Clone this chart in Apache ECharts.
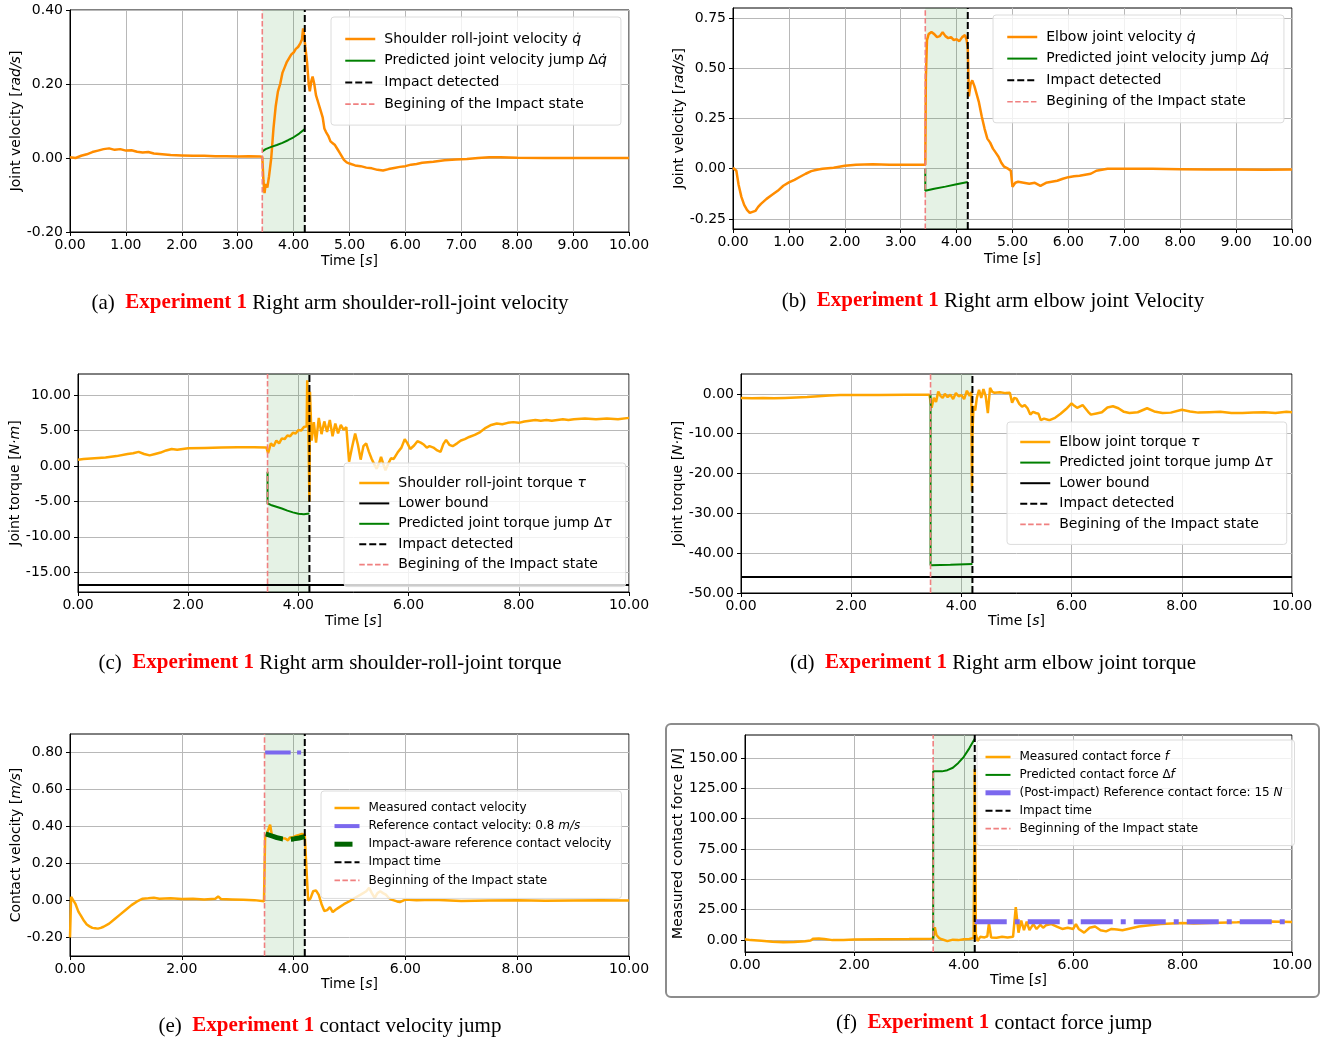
<!DOCTYPE html>
<html>
<head>
<meta charset="utf-8">
<title>Experiment 1 - impact results</title>
<script src="https://cdn.jsdelivr.net/npm/echarts@6/dist/echarts.min.js"></script>
<style>
html, body { margin: 0; padding: 0; background: #fff; }
#main { width: 1339px; height: 1044px; }
</style>
</head>
<body>
<div id="main"></div>
<script>
// ---- data: [time (s), value] ----

// (a) shoulder roll joint velocity
const shoulderVel = [[0,0.002],[0.1,0.0],[0.2,0.006],[0.3,0.01],[0.4,0.016],[0.5,0.02],[0.6,0.024],[0.7,0.026],[0.8,0.022],[0.9,0.024],[1.0,0.02],[1.1,0.021],[1.2,0.017],[1.3,0.015],[1.4,0.016],[1.5,0.012],[1.6,0.011],[1.8,0.008],[2.0,0.007],[2.2,0.006],[2.4,0.006],[2.6,0.005],[2.8,0.005],[3.0,0.004],[3.2,0.005],[3.4,0.004],[3.44,0.003],[3.46,-0.06],[3.48,-0.095],[3.5,-0.07],[3.53,-0.08],[3.56,-0.05],[3.6,0.0],[3.64,0.08],[3.68,0.14],[3.72,0.18],[3.76,0.2],[3.8,0.23],[3.84,0.245],[3.88,0.26],[3.92,0.27],[3.96,0.28],[4.0,0.285],[4.04,0.295],[4.08,0.3],[4.12,0.31],[4.15,0.32],[4.17,0.35],[4.19,0.33],[4.21,0.3],[4.24,0.26],[4.27,0.2],[4.29,0.18],[4.32,0.21],[4.34,0.22],[4.37,0.2],[4.4,0.17],[4.44,0.15],[4.48,0.13],[4.52,0.11],[4.55,0.08],[4.58,0.07],[4.62,0.06],[4.66,0.045],[4.7,0.04],[4.74,0.035],[4.78,0.025],[4.82,0.015],[4.86,0.005],[4.9,-0.005],[4.95,-0.012],[5.0,-0.015],[5.1,-0.02],[5.2,-0.022],[5.3,-0.026],[5.4,-0.028],[5.5,-0.032],[5.6,-0.034],[5.7,-0.03],[5.8,-0.027],[5.9,-0.024],[6.0,-0.022],[6.1,-0.018],[6.2,-0.016],[6.3,-0.013],[6.5,-0.01],[6.7,-0.006],[6.9,-0.004],[7.1,-0.003],[7.3,0.0],[7.5,0.002],[7.7,0.002],[8.0,0.001],[8.5,0.0],[9.0,0.0],[9.5,0.0],[10,0.0]]
const shoulderVelJump = [[3.44,0.018],[3.5,0.024],[3.6,0.03],[3.7,0.035],[3.8,0.041],[3.9,0.048],[4.0,0.056],[4.1,0.066],[4.2,0.078]]

// (b) elbow joint velocity
const elbowVel = [[0,0.005],[0.03,0.008],[0.06,-0.01],[0.1,-0.08],[0.15,-0.14],[0.2,-0.18],[0.25,-0.205],[0.3,-0.22],[0.35,-0.215],[0.4,-0.21],[0.45,-0.19],[0.5,-0.175],[0.6,-0.15],[0.7,-0.13],[0.8,-0.11],[0.9,-0.085],[1.0,-0.068],[1.1,-0.055],[1.2,-0.04],[1.3,-0.025],[1.4,-0.012],[1.5,-0.005],[1.6,0.0],[1.8,0.005],[2.0,0.015],[2.2,0.02],[2.5,0.022],[2.8,0.02],[3.1,0.02],[3.4,0.02],[3.44,0.02],[3.45,0.45],[3.47,0.64],[3.5,0.67],[3.55,0.68],[3.6,0.67],[3.65,0.655],[3.7,0.66],[3.75,0.68],[3.8,0.66],[3.85,0.65],[3.9,0.655],[3.95,0.64],[4.0,0.645],[4.05,0.635],[4.1,0.655],[4.15,0.665],[4.18,0.64],[4.2,0.6],[4.22,0.36],[4.25,0.42],[4.28,0.44],[4.32,0.41],[4.36,0.37],[4.4,0.33],[4.45,0.26],[4.5,0.2],[4.55,0.15],[4.6,0.13],[4.65,0.1],[4.7,0.08],[4.75,0.06],[4.8,0.03],[4.85,0.01],[4.92,0.0],[4.97,-0.01],[5.0,-0.09],[5.05,-0.07],[5.1,-0.065],[5.2,-0.07],[5.3,-0.075],[5.4,-0.07],[5.5,-0.085],[5.6,-0.07],[5.7,-0.065],[5.8,-0.06],[5.9,-0.05],[6.0,-0.042],[6.1,-0.038],[6.2,-0.035],[6.3,-0.03],[6.4,-0.025],[6.5,-0.01],[6.6,-0.005],[6.7,0.0],[7.0,0.0],[7.5,0.0],[8.0,-0.002],[8.5,-0.004],[9.0,-0.004],[9.5,-0.005],[10,-0.004]]
const elbowVelJump = [[3.44,0.0],[3.44,-0.11],[3.6,-0.1],[3.8,-0.089],[4.0,-0.077],[4.2,-0.066]]

// (c) shoulder roll joint torque
const shoulderTorque = [[0,0.9],[0.1,1.0],[0.3,1.1],[0.5,1.2],[0.7,1.4],[0.9,1.7],[1.0,1.8],[1.1,2.0],[1.2,1.7],[1.3,1.5],[1.4,1.7],[1.5,1.9],[1.6,2.2],[1.7,2.4],[1.8,2.3],[2.0,2.5],[2.3,2.55],[2.6,2.6],[2.9,2.65],[3.2,2.65],[3.42,2.6],[3.45,1.8],[3.5,3.2],[3.55,2.8],[3.6,3.6],[3.65,3.2],[3.7,3.9],[3.75,3.8],[3.8,4.3],[3.85,4.2],[3.9,4.7],[3.95,4.6],[4.0,5.1],[4.05,5.0],[4.1,5.5],[4.15,5.6],[4.16,12.1],[4.18,6.0],[4.2,-5.0],[4.21,10.5],[4.24,3.6],[4.28,6.2],[4.32,3.3],[4.37,6.8],[4.42,4.5],[4.47,6.3],[4.52,4.8],[4.57,6.5],[4.62,4.2],[4.67,6.0],[4.72,4.6],[4.77,5.8],[4.82,5.1],[4.87,5.5],[4.92,0.6],[4.97,2.5],[5.03,4.6],[5.08,3.0],[5.13,0.9],[5.18,2.8],[5.23,3.2],[5.28,2.0],[5.33,1.0],[5.38,0.2],[5.42,-0.4],[5.47,0.5],[5.5,1.3],[5.54,0.3],[5.58,-0.6],[5.63,0.3],[5.68,1.1],[5.73,1.0],[5.8,1.9],[5.87,2.6],[5.93,3.8],[5.98,3.2],[6.03,2.4],[6.1,2.9],[6.16,3.5],[6.22,3.3],[6.28,3.0],[6.33,2.6],[6.38,2.8],[6.45,2.6],[6.52,2.2],[6.58,2.0],[6.63,3.1],[6.68,3.7],[6.74,3.0],[6.8,2.8],[6.88,3.2],[6.95,3.6],[7.02,3.8],[7.1,4.1],[7.2,4.4],[7.3,4.8],[7.4,5.4],[7.5,5.8],[7.6,6.0],[7.7,5.9],[7.8,6.1],[7.9,6.2],[8.0,6.1],[8.1,6.3],[8.2,6.4],[8.3,6.5],[8.4,6.4],[8.5,6.5],[8.6,6.4],[8.7,6.5],[8.8,6.6],[8.9,6.5],[9.0,6.6],[9.2,6.7],[9.4,6.6],[9.6,6.7],[9.8,6.6],[10,6.8]]
const shoulderTorqueJump = [[3.44,-0.8],[3.44,-5.3],[3.5,-5.5],[3.6,-5.75],[3.7,-6.0],[3.8,-6.3],[3.9,-6.55],[4.0,-6.75],[4.1,-6.8],[4.2,-6.7]]
const shoulderTorqueLower = -16.8

// (d) elbow joint torque
const elbowTorque = [[0,-1.0],[0.2,-1.1],[0.4,-1.0],[0.6,-1.1],[0.8,-1.0],[1.0,-0.9],[1.2,-0.8],[1.4,-0.6],[1.6,-0.4],[1.8,-0.3],[2.0,-0.3],[2.5,-0.25],[3.0,-0.2],[3.42,-0.2],[3.46,-3.5],[3.5,-1.0],[3.54,-2.0],[3.58,0.6],[3.62,-0.5],[3.66,-1.0],[3.7,0.0],[3.75,-0.8],[3.8,-0.2],[3.85,-1.3],[3.9,0.2],[3.95,-0.6],[4.0,-0.3],[4.05,-1.3],[4.1,0.8],[4.15,-0.5],[4.18,0.5],[4.19,-24.5],[4.2,-10],[4.22,-3.0],[4.25,-4.2],[4.28,-1.0],[4.32,1.0],[4.36,-1.0],[4.4,1.2],[4.44,-0.5],[4.48,-4.8],[4.52,1.5],[4.56,0.5],[4.6,0.3],[4.7,0.4],[4.8,0.2],[4.88,0.3],[4.92,-2.2],[4.96,-1.0],[5.0,-1.2],[5.05,-2.5],[5.1,-3.2],[5.15,-2.8],[5.2,-3.6],[5.25,-5.2],[5.3,-4.5],[5.35,-4.8],[5.4,-5.0],[5.44,-6.6],[5.5,-6.2],[5.6,-6.6],[5.7,-6.0],[5.8,-5.0],[5.9,-3.8],[6.0,-2.4],[6.05,-3.0],[6.1,-3.5],[6.2,-2.8],[6.3,-4.5],[6.35,-5.2],[6.45,-4.9],[6.55,-4.6],[6.65,-3.4],[6.75,-3.1],[6.85,-3.6],[6.95,-4.5],[7.05,-4.8],[7.2,-4.6],[7.37,-3.6],[7.5,-4.4],[7.65,-4.8],[7.8,-4.7],[8.0,-4.0],[8.15,-4.4],[8.3,-4.7],[8.5,-4.6],[8.7,-4.5],[8.9,-4.8],[9.1,-4.8],[9.3,-4.7],[9.5,-4.6],[9.7,-4.8],[9.9,-4.5],[10,-4.6]]
const elbowTorqueJump = [[3.44,-0.2],[3.44,-43.0],[3.8,-42.9],[4.2,-42.7]]
const elbowTorqueLower = -46

// (e) contact velocity
const contactVel = [[0,-0.2],[0.02,0.02],[0.05,0.01],[0.1,-0.02],[0.15,-0.06],[0.2,-0.085],[0.25,-0.11],[0.3,-0.13],[0.35,-0.14],[0.4,-0.148],[0.45,-0.15],[0.5,-0.152],[0.55,-0.148],[0.6,-0.142],[0.7,-0.125],[0.8,-0.1],[0.9,-0.075],[1.0,-0.05],[1.1,-0.025],[1.2,-0.005],[1.3,0.01],[1.4,0.012],[1.5,0.015],[1.6,0.01],[1.8,0.012],[2.0,0.008],[2.2,0.01],[2.4,0.006],[2.6,0.01],[2.65,0.022],[2.7,0.008],[2.9,0.006],[3.1,0.004],[3.3,0.002],[3.47,-0.004],[3.49,0.34],[3.52,0.36],[3.55,0.37],[3.58,0.41],[3.61,0.355],[3.65,0.35],[3.7,0.345],[3.75,0.34],[3.8,0.337],[3.85,0.335],[3.9,0.325],[3.93,0.34],[3.97,0.34],[4.0,0.345],[4.05,0.35],[4.1,0.355],[4.15,0.36],[4.2,0.355],[4.23,0.17],[4.26,0.0],[4.3,0.01],[4.35,0.05],[4.4,0.055],[4.45,0.03],[4.5,-0.02],[4.55,-0.057],[4.6,-0.052],[4.65,-0.036],[4.7,-0.063],[4.75,-0.05],[4.8,-0.04],[4.9,-0.02],[5.0,-0.004],[5.1,0.015],[5.2,0.032],[5.3,0.05],[5.35,0.068],[5.4,0.04],[5.45,0.014],[5.5,0.04],[5.55,0.05],[5.6,0.04],[5.65,0.032],[5.7,0.015],[5.75,0.005],[5.85,-0.005],[5.9,-0.009],[6.0,0.005],[6.2,0.002],[6.5,0.004],[7.0,-0.003],[7.5,0.0],[8.0,0.002],[8.5,-0.002],[9.0,0.0],[9.5,0.002],[10,0.0]]
const contactVelRef = [[3.49,0.8],[4.2,0.8]]
const contactVelAware = [[3.5,0.36],[3.6,0.35],[3.7,0.34],[3.8,0.333],[3.9,0.33],[4.0,0.333],[4.1,0.338],[4.2,0.345]]

// (f) contact force
const contactForce = [[0,0.5],[0.1,-0.2],[0.3,-0.8],[0.5,-1.5],[0.7,-2.0],[0.9,-1.8],[1.1,-1.2],[1.2,-0.5],[1.25,1.0],[1.35,1.2],[1.45,0.8],[1.6,-0.2],[1.8,0.0],[2.0,0.3],[2.5,0.5],[3.0,0.7],[3.4,1.0],[3.44,1.2],[3.47,10.5],[3.5,4.0],[3.55,1.5],[3.6,0.5],[3.7,-1.0],[3.8,0.2],[3.9,-0.2],[4.0,0.5],[4.1,0.8],[4.18,1.5],[4.2,141],[4.22,5],[4.25,-1.0],[4.3,2.5],[4.38,2.0],[4.43,3.0],[4.46,13.8],[4.5,2.0],[4.6,1.8],[4.7,2.5],[4.8,2.0],[4.9,2.5],[4.95,27],[5.0,6],[5.05,16],[5.1,8],[5.15,15],[5.2,8],[5.27,13],[5.33,9],[5.4,12.5],[5.45,10],[5.5,12],[5.6,13],[5.7,11],[5.8,9],[5.9,10],[6.0,9],[6.05,13],[6.1,9],[6.2,6],[6.3,10],[6.4,11],[6.5,8],[6.6,7],[6.7,9],[6.8,8.5],[6.9,8],[7.0,9],[7.1,10],[7.2,11],[7.4,12],[7.6,13],[7.8,13.5],[8.0,14],[8.2,13.5],[8.5,14],[9.0,14.5],[9.3,15],[9.6,15.2],[10,14.8]]
const contactForceJump = [[3.44,0],[3.44,139],[3.6,139],[3.7,140],[3.8,142],[3.9,146],[4.0,151],[4.1,158],[4.2,166]]
const contactForceRef = [[4.2,15],[10,15]]

// impact-state start / impact time per panel (s)
const beginTimes = [3.44, 3.44, 3.44, 3.44, 3.48, 3.44]
const impactTimes = [4.2, 4.2, 4.2, 4.2, 4.2, 4.2]

// y tick labels per panel
const yTicks = [
  [-0.2, 0, 0.2, 0.4],
  [-0.25, 0, 0.25, 0.5, 0.75],
  [-15, -10, -5, 0, 5, 10],
  [-50, -40, -30, -20, -10, 0],
  [-0.2, 0, 0.2, 0.4, 0.6, 0.8],
  [0, 25, 50, 75, 100, 125, 150]
]

const FONT = 'DejaVu Sans'
const SERIF = 'Liberation Serif'
const DARKORANGE = '#ff8c00'
const ORANGE = '#ffa500'
const GREEN = '#008000'
const PINK = '#f08080'
const BLUE = '#7b68ee'
const DARKGREEN = '#006400'
const GRIDCOLOR = '#b8b8b8'
const DASH = [7, 3]
const PINKDASH = [5.5, 2.4]

const italic = { fontStyle: 'italic', fontFamily: FONT, fontSize: 14, color: '#000' }

// panel layout and series styling
const panels = [
  {
    grid: [70, 10, 559, 222], yRange: [-0.2, 0.4], xStep: 1,
    yName: 'Joint velocity [{i|rad/s}]', yGap: 47, xGap: 22,
    lines: [
      { name: 'Shoulder roll-joint velocity q̇', data: shoulderVel, color: DARKORANGE, width: 2.5 },
      { name: 'Predicted joint velocity jump Δq̇', data: shoulderVelJump, color: GREEN, width: 2 }
    ],
    impactName: 'Impact detected', beginName: 'Begining of the Impact state',
    legend: { left: 331, top: 17, pad: [14, 14, 13, 13], gap: 5.7, row: 16, size: 14, icon: 30 },
    order: ['Shoulder roll-joint velocity q̇', 'Predicted joint velocity jump Δq̇', 'Impact detected', 'Begining of the Impact state']
  },
  {
    grid: [733, 8, 559, 221], yRange: [-0.3, 0.8], xStep: 1,
    yName: 'Joint velocity [{i|rad/s}]', yGap: 47, xGap: 23,
    lines: [
      { name: 'Elbow joint velocity q̇', data: elbowVel, color: DARKORANGE, width: 2.5 },
      { name: 'Predicted joint velocity jump Δq̇', data: elbowVelJump, color: GREEN, width: 2 }
    ],
    impactName: 'Impact detected', beginName: 'Begining of the Impact state',
    legend: { left: 993, top: 15, pad: [14, 15, 13, 13], gap: 5.6, row: 16, size: 14, icon: 30 },
    order: ['Elbow joint velocity q̇', 'Predicted joint velocity jump Δq̇', 'Impact detected', 'Begining of the Impact state']
  },
  {
    grid: [78, 374, 551, 218], yRange: [-17.8, 13], xStep: 2,
    yName: 'Joint torque [{i|N·m}]', yGap: 55, xGap: 22,
    lines: [
      { name: 'Shoulder roll-joint torque τ', data: shoulderTorque, color: ORANGE, width: 2.5 },
      { name: 'Lower bound', data: [[0, shoulderTorqueLower], [10, shoulderTorqueLower]], color: '#000', width: 2 },
      { name: 'Predicted joint torque jump Δτ', data: shoulderTorqueJump, color: GREEN, width: 2 }
    ],
    impactName: 'Impact detected', beginName: 'Begining of the Impact state',
    legend: { left: 344, top: 463, pad: [12, 14, 14, 14], gap: 4.4, row: 16, size: 14, icon: 30 },
    order: ['Shoulder roll-joint torque τ', 'Lower bound', 'Predicted joint torque jump Δτ', 'Impact detected', 'Begining of the Impact state']
  },
  {
    grid: [741, 374, 551, 219], yRange: [-50, 5], xStep: 2,
    yName: 'Joint torque [{i|N·m}]', yGap: 55, xGap: 21,
    lines: [
      { name: 'Elbow joint torque τ', data: elbowTorque, color: ORANGE, width: 2.5 },
      { name: 'Predicted joint torque jump Δτ', data: elbowTorqueJump, color: GREEN, width: 2 },
      { name: 'Lower bound', data: [[0, elbowTorqueLower], [10, elbowTorqueLower]], color: '#000', width: 2 }
    ],
    impactName: 'Impact detected', beginName: 'Begining of the Impact state',
    legend: { left: 1007, top: 422, pad: [12, 14, 12, 12], gap: 4.6, row: 16, size: 14, icon: 30 },
    order: ['Elbow joint torque τ', 'Predicted joint torque jump Δτ', 'Lower bound', 'Impact detected', 'Begining of the Impact state']
  },
  {
    grid: [70, 734, 559, 222], yRange: [-0.3, 0.9], xStep: 2,
    yName: 'Contact velocity [{i|m/s}]', yGap: 47, xGap: 21,
    lines: [
      { name: 'Measured contact velocity', data: contactVel, color: ORANGE, width: 2.5 },
      { name: 'Reference contact velocity: 0.8 m/s', data: contactVelRef, color: BLUE, width: 4, type: [25.6, 6.4, 4, 6.4] },
      { name: 'Impact-aware reference contact velocity', data: contactVelAware, color: DARKGREEN, width: 5, type: [18, 8] }
    ],
    impactName: 'Impact time', beginName: 'Beginning of the Impact state',
    legend: { left: 321, top: 791, pad: [10, 10, 11, 11], gap: 4.1, row: 14, size: 12, icon: 25 },
    order: ['Measured contact velocity', 'Reference contact velocity: 0.8 m/s', 'Impact-aware reference contact velocity', 'Impact time', 'Beginning of the Impact state']
  },
  {
    grid: [745, 735, 547, 217], yRange: [-10, 169], xStep: 2,
    yName: 'Measured contact force [{i|N}]', yGap: 57, xGap: 21,
    lines: [
      { name: 'Measured contact force f', data: contactForce, color: ORANGE, width: 2.5 },
      { name: 'Predicted contact force Δf', data: contactForceJump, color: GREEN, width: 2 },
      { name: '(Post-impact) Reference contact force: 15 N', data: contactForceRef, color: BLUE, width: 5, type: [32, 8, 5, 8] }
    ],
    impactName: 'Impact time', beginName: 'Beginning of the Impact state',
    legend: { left: 977, top: 740, pad: [11, 12, 11, 6], gap: 5.9, row: 12, size: 12, icon: 25 },
    order: ['Measured contact force f', 'Predicted contact force Δf', '(Post-impact) Reference contact force: 15 N', 'Impact time', 'Beginning of the Impact state']
  }
]

const captions = [
  { tag: '(a)', text: 'Right arm shoulder-roll-joint velocity', x: 330, y: 303 },
  { tag: '(b)', text: 'Right arm elbow joint Velocity', x: 993, y: 301 },
  { tag: '(c)', text: 'Right arm shoulder-roll-joint torque', x: 330, y: 663 },
  { tag: '(d)', text: 'Right arm elbow joint torque', x: 993, y: 663 },
  { tag: '(e)', text: 'contact velocity jump', x: 330, y: 1026 },
  { tag: '(f)', text: 'contact force jump', x: 994, y: 1023 }
]

// math symbols at the end of legend names are set in italics
function legendLabel(name) {
  return name.replace(/(q̇|τ|f|N|m\/s)$/, '{i|$1}')
}

const option = {
  animation: false,
  backgroundColor: '#fff',
  textStyle: { fontFamily: FONT },
  grid: [], xAxis: [], yAxis: [], series: [], legend: [],
  graphic: [
    { // frame round panel (f)
      type: 'rect', shape: { x: 666, y: 724, width: 653, height: 273, r: 5 },
      style: { fill: 'none', stroke: '#8c8c8c', lineWidth: 2 }
    }
  ]
}

panels.forEach((p, i) => {
  const [yMin, yMax] = p.yRange
  option.grid.push({
    left: p.grid[0], top: p.grid[1], width: p.grid[2], height: p.grid[3],
    show: true, borderColor: '#000', borderWidth: 1, backgroundColor: 'transparent'
  })
  option.xAxis.push({
    gridIndex: i, type: 'value', min: 0, max: 10, interval: p.xStep,
    name: 'Time [{i|s}]', nameLocation: 'middle', nameGap: p.xGap,
    nameTextStyle: { fontSize: 14, color: '#000', fontFamily: FONT, rich: { i: italic } },
    axisLine: { show: true, onZero: false, lineStyle: { color: '#000', width: 1 } },
    axisTick: { show: true, length: 4, lineStyle: { color: '#000' } },
    axisLabel: { color: '#000', fontSize: 14, margin: 6, formatter: v => v.toFixed(2) },
    splitLine: { show: true, lineStyle: { color: GRIDCOLOR, width: 1 } }
  })
  option.yAxis.push({
    gridIndex: i, type: 'value', min: yMin, max: yMax,
    name: p.yName, nameLocation: 'middle', nameGap: p.yGap,
    nameTextStyle: { fontSize: 14, color: '#000', fontFamily: FONT, rich: { i: italic } },
    axisLine: { show: true, onZero: false, lineStyle: { color: '#000', width: 1 } },
    axisTick: { show: true, length: 4, customValues: yTicks[i], lineStyle: { color: '#000' } },
    axisLabel: { color: '#000', fontSize: 14, margin: 7, customValues: yTicks[i], formatter: v => v.toFixed(2) },
    splitLine: { show: true, lineStyle: { color: GRIDCOLOR, width: 1 } }
  })

  p.lines.forEach((l, k) => {
    const s = {
      type: 'line', name: l.name, xAxisIndex: i, yAxisIndex: i, data: l.data,
      symbol: 'none', z: 3,
      lineStyle: { color: l.color, width: l.width, type: l.type || 'solid' },
      itemStyle: { color: l.color }
    }
    if (k === 0) {
      // shaded impact state
      s.markArea = {
        silent: true,
        itemStyle: { color: 'rgba(0,128,0,0.1)' },
        data: [[{ xAxis: beginTimes[i] }, { xAxis: impactTimes[i] }]]
      }
    }
    option.series.push(s)
  })

  option.series.push({
    type: 'line', name: p.impactName, xAxisIndex: i, yAxisIndex: i, symbol: 'none', z: 4,
    data: [[impactTimes[i], yMin], [impactTimes[i], yMax]],
    lineStyle: { color: '#000', width: 2, type: DASH }, itemStyle: { color: '#000' }
  })
  option.series.push({
    type: 'line', name: p.beginName, xAxisIndex: i, yAxisIndex: i, symbol: 'none', z: 4,
    data: [[beginTimes[i], yMin], [beginTimes[i], yMax]],
    lineStyle: { color: PINK, width: 1.6, type: PINKDASH }, itemStyle: { color: PINK }
  })

  const lg = p.legend
  option.legend.push({
    data: p.order, orient: 'vertical', left: lg.left, top: lg.top,
    padding: lg.pad, itemGap: lg.gap, itemWidth: lg.icon, itemHeight: lg.row,
    selectedMode: false,
    itemStyle: { opacity: 0 }, // line only, no marker
    lineStyle: { width: 'inherit' },
    backgroundColor: 'rgba(255,255,255,0.8)', borderColor: '#dcdcdc', borderWidth: 1, borderRadius: 3,
    formatter: legendLabel,
    textStyle: {
      fontSize: lg.size, fontFamily: FONT, color: '#000', lineHeight: lg.row, padding: [0, 0, 0, 4],
      rich: { i: { fontStyle: 'italic', fontSize: lg.size, fontFamily: FONT, color: '#000', lineHeight: lg.row } }
    }
  })
})

const captionRich = {
  n: { fontFamily: SERIF, fontSize: 21, fill: '#000' },
  r: { fontFamily: SERIF, fontSize: 21, fontWeight: 'bold', fill: '#ff0000' }
}
captions.forEach(c => {
  option.graphic.push({
    type: 'text', x: c.x, y: c.y,
    style: {
      text: '{n|' + c.tag + '}  {r|Experiment 1} {n|' + c.text + '}',
      rich: captionRich, fontFamily: SERIF, fontSize: 21,
      align: 'center', verticalAlign: 'middle', textAlign: 'center', textVerticalAlign: 'middle'
    }
  })
})

const myChart = echarts.init(document.getElementById('main'))
myChart.setOption(option)
</script>
</body>
</html>
